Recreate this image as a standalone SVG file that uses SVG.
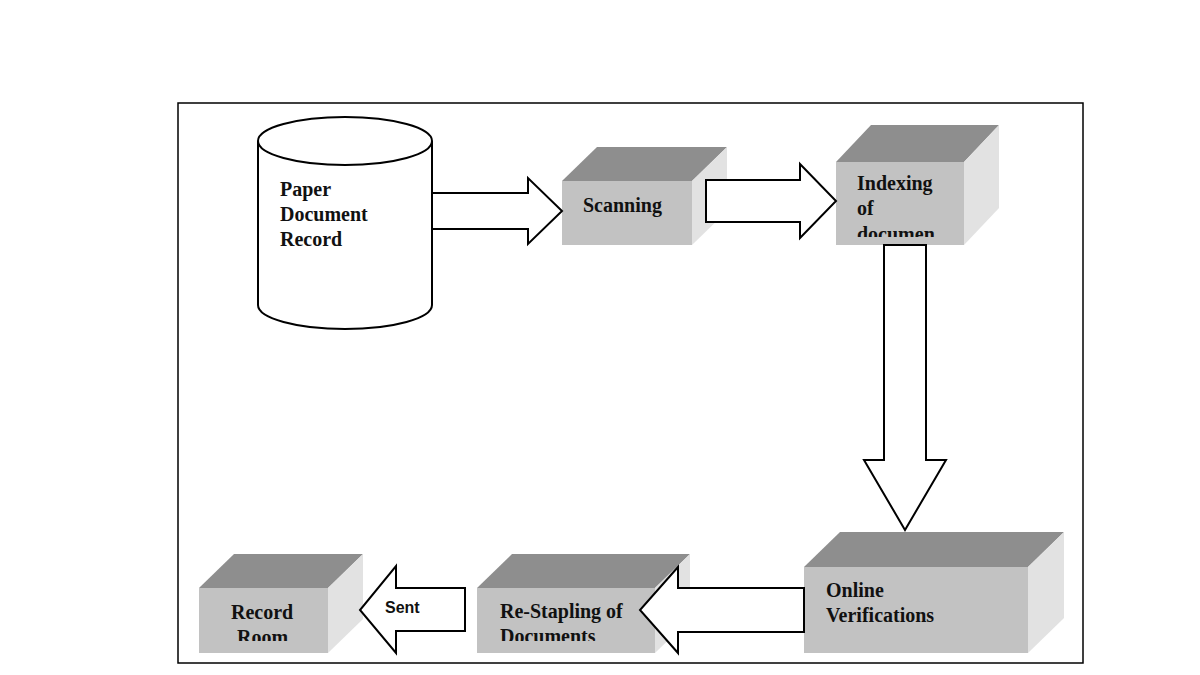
<svg xmlns="http://www.w3.org/2000/svg" width="1200" height="675" viewBox="0 0 1200 675">
<style>
.top{fill:#8e8e8e}.front{fill:#c2c2c2}.side{fill:#e2e2e2}
.t{font-family:"Liberation Serif",serif;font-weight:bold;font-size:20px;fill:#111}
.s{font-family:"Liberation Sans",sans-serif;font-weight:bold;font-size:16px;fill:#111}
.ar{fill:#fff;stroke:#000;stroke-width:2;stroke-linejoin:miter}
</style>
<defs>
<clipPath id="c1"><rect x="836" y="162" width="128" height="75"/></clipPath>
<clipPath id="c2"><rect x="477" y="588" width="178" height="53"/></clipPath>
<clipPath id="c3"><rect x="199" y="588" width="129" height="53"/></clipPath>
</defs>
<rect width="1200" height="675" fill="#fff"/>
<rect x="178" y="103" width="905" height="560" fill="#fff" stroke="#000" stroke-width="1.5"/>
<g id="paper">
<path d="M258,141 V305 A87,24 0 0 0 432,305 V141" fill="#fff" stroke="#000" stroke-width="2"/>
<ellipse cx="345" cy="141" rx="87" ry="24" fill="#fff" stroke="#000" stroke-width="2"/>
<text class="t" x="280" y="196">Paper</text>
<text class="t" x="280" y="221">Document</text>
<text class="t" x="280" y="246">Record</text>
</g>
<g id="scanning">
<polygon class="top" points="562,181 597,147 727,147 692,181"/>
<polygon class="side" points="692,181 727,147 727,211 692,245"/>
<rect class="front" x="562" y="181" width="130" height="64"/>
<text class="t" x="583" y="212">Scanning</text>
</g>
<g id="indexing">
<polygon class="top" points="836,162 871,125 999,125 964,162"/>
<polygon class="side" points="964,162 999,125 999,208 964,245"/>
<rect class="front" x="836" y="162" width="128" height="83"/>
<g clip-path="url(#c1)">
<text class="t" x="857" y="190">Indexing</text>
<text class="t" x="857" y="215">of</text>
<text class="t" x="857" y="241">documen</text>
</g>
</g>
<g id="online">
<polygon class="top" points="804,567 840,532 1064,532 1028,567"/>
<polygon class="side" points="1028,567 1064,532 1064,618 1028,653"/>
<rect class="front" x="804" y="567" width="224" height="86"/>
<text class="t" x="826" y="597">Online</text>
<text class="t" x="826" y="622">Verifications</text>
</g>
<g id="restapling">
<polygon class="top" points="477,588 512,554 690,554 655,588"/>
<polygon class="side" points="655,588 690,554 690,619 655,653"/>
<rect class="front" x="477" y="588" width="178" height="65"/>
<g clip-path="url(#c2)">
<text class="t" x="500" y="618">Re-Stapling of</text>
<text class="t" x="500" y="643">Documents</text>
</g>
</g>
<g id="recordroom">
<polygon class="top" points="199,588 234,554 363,554 328,588"/>
<polygon class="side" points="328,588 363,554 363,619 328,653"/>
<rect class="front" x="199" y="588" width="129" height="65"/>
<g clip-path="url(#c3)">
<text class="t" x="231" y="619">Record</text>
<text class="t" x="237" y="644">Room</text>
</g>
</g>
<g id="connectors">
<polygon class="ar" points="432,193 528,193 528,178 562,211 528,244 528,229 432,229"/>
<polygon class="ar" points="706,180 800,180 800,164 836,201 800,238 800,222 706,222"/>
<polygon class="ar" points="884,245 926,245 926,460 946,460 905,530 864,460 884,460"/>
<polygon class="ar" points="804,588 678,588 678,567 640,610 678,653 678,632 804,632"/>
<polygon class="ar" points="465,588 396,588 396,566 360,610 396,653 396,631 465,631"/>
<text class="s" x="385" y="613">Sent</text>
</g>
</svg>
